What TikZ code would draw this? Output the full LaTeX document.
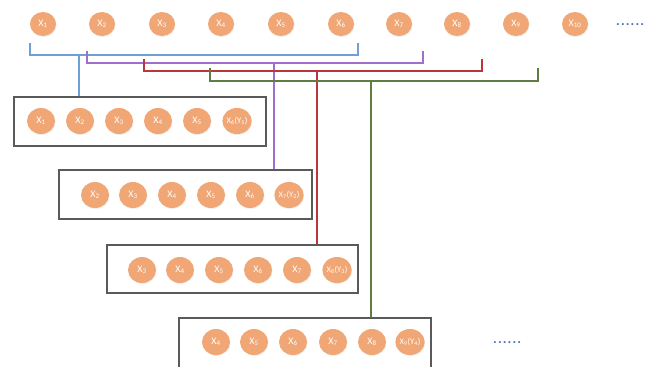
\documentclass[tikz,border=0pt]{standalone}
\usepackage{fontspec}
\setmainfont{Carlito}
\usetikzlibrary{shapes.geometric,shadows}
\definecolor{corange}{RGB}{241,167,117}
\definecolor{cblue}{RGB}{110,160,215}
\definecolor{cpurple}{RGB}{160,110,205}
\definecolor{cred}{RGB}{185,55,60}
\definecolor{cgreen}{RGB}{95,125,65}
\definecolor{cbox}{RGB}{90,90,90}
\definecolor{cdots}{RGB}{70,115,190}
\newcommand\Xs[1]{X\textsubscript{#1}}
\newcommand\sixdots{.\kern1.1pt.\kern1.1pt.\kern1.1pt.\kern1.1pt.\kern1.1pt.}
\tikzset{
  xtop/.style={ellipse,fill=corange,text=white,inner sep=0pt,minimum width=26,minimum height=24,
    font=\fontsize{10}{10}\selectfont,drop shadow={opacity=0.12,shadow xshift=0.6pt,shadow yshift=-1pt}},
  xin/.style={xtop,minimum width=28,minimum height=26},
  ylab/.style={font=\fontsize{8.5}{8.5}\selectfont},
  seqbox/.style={draw=cbox,line width=1.1pt,minimum width=#1,minimum height=49,inner sep=0pt},
  bline/.style={line width=1.2pt},
  dotstext/.style={text=cdots,font=\fontsize{14}{14}\selectfont\bfseries,inner sep=0pt}
}
\begin{document}
\begin{tikzpicture}[x=1pt,y=-1pt]
\useasboundingbox (0,0) rectangle (646,367);
\clip (0,0) rectangle (646,367);
% top row
\node[xtop] (t1) at (43,24) {\Xs{1}};
\node[xtop] (t2) at (102,24) {\Xs{2}};
\node[xtop] (t3) at (162,24) {\Xs{3}};
\node[xtop] (t4) at (221,24) {\Xs{4}};
\node[xtop] (t5) at (281,24) {\Xs{5}};
\node[xtop] (t6) at (341,24) {\Xs{6}};
\node[xtop] (t7) at (399,24) {\Xs{7}};
\node[xtop] (t8) at (457,24) {\Xs{8}};
\node[xtop] (t9) at (516,24) {\Xs{9}};
\node[xtop] (t10) at (575,24) {\Xs{10}};
\node[dotstext,anchor=base west] (tdots) at (616,25) {\sixdots};
% boxes
\node[seqbox=252] (b1) at (140,121.5) {};
\node[seqbox=253] (b2) at (185.5,194.5) {};
\node[seqbox=251,minimum height=48] (b3) at (232.5,269) {};
\node[seqbox=252,minimum height=54] (b4) at (305,345) {};
% box 1
\node[xin] (a1) at (41,121) {\Xs{1}};
\node[xin] (a2) at (80,121) {\Xs{2}};
\node[xin] (a3) at (119,121) {\Xs{3}};
\node[xin] (a4) at (158,121) {\Xs{4}};
\node[xin] (a5) at (197,121) {\Xs{5}};
\node[xin,ylab] (a6) at (237,121) {\Xs{6}(Y\textsubscript{1})};
% box 2
\node[xin] (c1) at (95,195) {\Xs{2}};
\node[xin] (c2) at (133,195) {\Xs{3}};
\node[xin] (c3) at (172,195) {\Xs{4}};
\node[xin] (c4) at (211,195) {\Xs{5}};
\node[xin] (c5) at (250,195) {\Xs{6}};
\node[xin,ylab] (c6) at (289,195) {\Xs{7}(Y\textsubscript{2})};
% box 3
\node[xin] (d1) at (142,270) {\Xs{3}};
\node[xin] (d2) at (180,270) {\Xs{4}};
\node[xin] (d3) at (219,270) {\Xs{5}};
\node[xin] (d4) at (258,270) {\Xs{6}};
\node[xin] (d5) at (297,270) {\Xs{7}};
\node[xin,ylab] (d6) at (337,270) {\Xs{8}(Y\textsubscript{3})};
% box 4
\node[xin] (e1) at (216,342) {\Xs{4}};
\node[xin] (e2) at (254,342) {\Xs{5}};
\node[xin] (e3) at (293,342) {\Xs{6}};
\node[xin] (e4) at (333,342) {\Xs{7}};
\node[xin] (e5) at (372,342) {\Xs{8}};
\node[xin,ylab] (e6) at (410,342) {\Xs{9}(Y\textsubscript{4})};
\node[dotstext,anchor=base west] (bdots) at (493,343) {\sixdots};
% bracket coordinates
\coordinate (bl1) at (30,43);  \coordinate (br1) at (358,43);  \coordinate (bm1) at (79,55);
\coordinate (pl1) at (87,51);  \coordinate (pr1) at (423,51);  \coordinate (pm1) at (274,63);
\coordinate (rl1) at (144,59); \coordinate (rr1) at (482,59);  \coordinate (rm1) at (317,71);
\coordinate (gl1) at (210,68); \coordinate (gr1) at (538,68);  \coordinate (gm1) at (371,81);
% blue
\draw[bline,cblue] (bl1) |- (bm1) -| (br1);
\draw[bline,cblue] (bm1) -- (bm1 |- b1.north);
% purple
\draw[bline,cpurple] (pl1) |- (pm1) -| (pr1);
\draw[bline,cpurple] (pm1) -- (pm1 |- b2.north);
% red
\draw[bline,cred] (rl1) |- (rm1) -| (rr1);
\draw[bline,cred] (rm1) -- (rm1 |- b3.north);
% green
\draw[bline,cgreen] (gl1) |- (gm1) -| (gr1);
\draw[bline,cgreen] (gm1) -- (gm1 |- b4.north);
\end{tikzpicture}
\end{document}
